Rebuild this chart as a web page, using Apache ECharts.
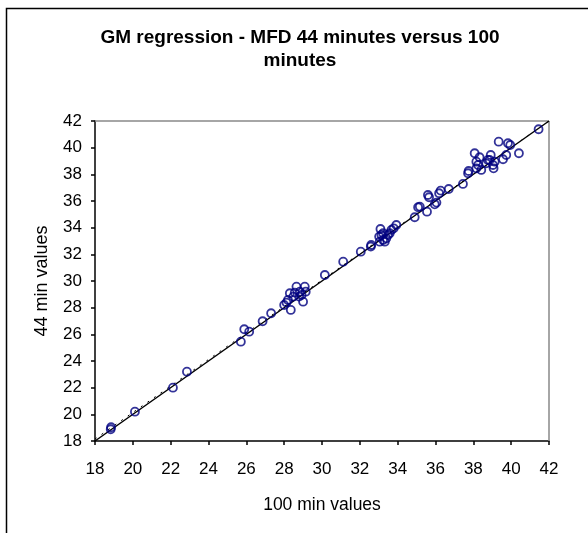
<!DOCTYPE html>
<html>
<head>
<meta charset="utf-8">
<script src="https://cdn.jsdelivr.net/npm/echarts@6/dist/echarts.min.js"></script>
<style>html,body{margin:0;padding:0;background:#fff}#c{width:588px;height:533px}</style>
</head>
<body>
<div id="c"></div>
<script>
var titleText = 'GM regression - MFD 44 minutes versus 100\nminutes';
var xAxisName = '100 min values';
var yAxisName = '44 min values';
var axisMin = 18, axisMax = 42, axisStep = 2;

// 100-minute values (x)
var x100 = [18.83, 18.85, 20.11, 22.12, 22.86, 25.71, 25.89, 26.15, 26.86, 27.31,
  28.0, 28.12, 28.3, 28.35, 28.48, 28.65, 28.79, 29.0, 29.09, 29.14, 28.2, 28.56, 28.83, 28.92,
  30.15, 31.12, 32.05, 32.58, 32.6,
  33.09, 33.02, 33.14, 33.23, 33.32, 33.4, 33.49, 33.58, 33.67, 33.79, 33.93, 33.05, 33.23,
  34.9, 35.08, 35.17, 35.55, 35.6, 35.66, 35.96, 36.05, 36.19, 36.27, 36.7, 37.45, 37.72, 37.75,
  38.07, 38.16, 38.25, 38.33, 38.42, 38.16, 38.92, 39.04, 39.07, 38.86, 38.68, 39.13, 38.77,
  39.34, 39.57, 39.83, 39.95, 39.74, 40.41, 41.45];
// 44-minute values (y)
var y44 = [18.88, 19.03, 20.2, 22.0, 23.2, 25.45, 26.38, 26.2, 26.98, 27.58,
  28.2, 28.38, 29.08, 27.83, 28.83, 29.58, 28.83, 28.45, 29.58, 29.2, 28.58, 29.13, 29.2, 28.95,
  30.45, 31.45, 32.2, 32.58, 32.7,
  33.9, 33.33, 33.45, 33.08, 32.95, 33.2, 33.45, 33.58, 33.83, 33.95, 34.2, 32.95, 33.58,
  34.78, 35.53, 35.58, 35.2, 36.45, 36.28, 35.75, 35.88, 36.58, 36.78, 36.9, 37.28, 38.08, 38.25,
  39.58, 38.95, 38.7, 39.28, 38.33, 38.45, 39.45, 38.7, 38.45, 39.08, 38.83, 38.95, 39.08,
  40.45, 39.13, 40.33, 40.2, 39.45, 39.58, 41.38];
// regression line and 1:1 line endpoints
var regX = [18, 42], regY = [18, 42];
var refX = [18, 42], refY = [18.15, 42];

var pts = x100.map(function (v, i) { return [v, y44[i]]; });
var regLine = regX.map(function (v, i) { return [v, regY[i]]; });
var refLine = refX.map(function (v, i) { return [v, refY[i]]; });

var font = 'Liberation Sans, Arial, sans-serif';
var chart = echarts.init(document.getElementById('c'), null, {renderer: 'canvas'});
chart.setOption({
  animation: false,
  backgroundColor: '#fff',
  title: {
    text: titleText, left: 295, top: 21, textAlign: 'center',
    textStyle: {fontFamily: font, fontWeight: 'bold', fontSize: 19, color: '#000', lineHeight: 23}
  },
  graphic: [
    {type: 'rect', left: 4, top: 6, shape: {width: 700, height: 700}, silent: true,
     style: {fill: 'none', stroke: '#000', lineWidth: 1.5}, z: -1},
    {type: 'line', shape: {x1: 95, y1: 121, x2: 549, y2: 121}, style: {stroke: '#888', lineWidth: 1.5}, z: 1},
    {type: 'line', shape: {x1: 549, y1: 121, x2: 549, y2: 441}, style: {stroke: '#888', lineWidth: 1.5}, z: 1}
  ],
  grid: {left: 95, right: 39, top: 121, bottom: 92, containLabel: false},
  xAxis: {
    type: 'value', min: axisMin, max: axisMax, interval: axisStep,
    name: xAxisName, nameLocation: 'middle', nameGap: 55,
    nameTextStyle: {fontFamily: font, fontSize: 17.5, color: '#000'},
    axisLine: {onZero: false, lineStyle: {color: '#000', width: 1.5}},
    axisTick: {length: 4, lineStyle: {color: '#000', width: 1.5}},
    axisLabel: {fontFamily: font, fontSize: 17, color: '#000', margin: 20},
    splitLine: {show: false}
  },
  yAxis: {
    type: 'value', min: axisMin, max: axisMax, interval: axisStep,
    name: yAxisName, nameLocation: 'middle', nameGap: 44, nameRotate: 90,
    nameTextStyle: {fontFamily: font, fontSize: 18, color: '#000'},
    axisLine: {onZero: false, lineStyle: {color: '#000', width: 1.5}},
    axisTick: {length: 4, lineStyle: {color: '#000', width: 1.5}},
    axisLabel: {fontFamily: font, fontSize: 17, color: '#000', margin: 13},
    splitLine: {show: false}
  },
  series: [
    {type: 'line', data: refLine, symbol: 'none', z: 2,
     lineStyle: {color: '#000', width: 1, type: [2, 6]}},
    {type: 'line', data: regLine, symbol: 'none', z: 3,
     lineStyle: {color: '#000', width: 1.5}},
    {type: 'scatter', data: pts, symbol: 'circle', symbolSize: 8, z: 4,
     itemStyle: {color: 'rgba(0,0,0,0)', borderColor: '#000080', borderWidth: 1.8}}
  ]
});
</script>
</body>
</html>
